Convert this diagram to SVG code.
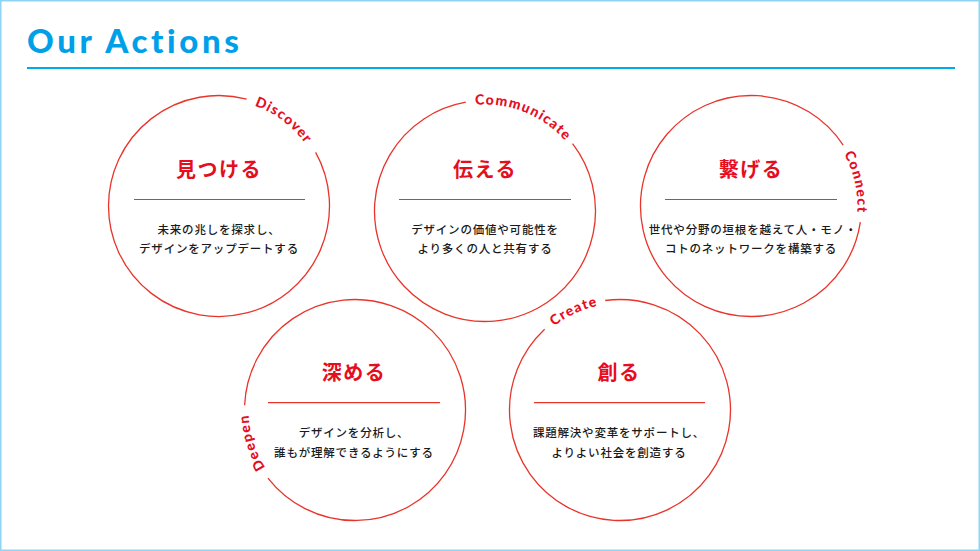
<svg xmlns="http://www.w3.org/2000/svg" width="980" height="551" viewBox="0 0 980 551">
<defs>
<style>
.ring{fill:none;stroke:#e8342a;stroke-width:1.3}
.rule{stroke:#e8342a;stroke-width:1.2}
.ttl{font-family:"Noto Sans CJK JP","Noto Sans",sans-serif;font-weight:700;font-size:20px;fill:#e60d1e;text-anchor:middle;letter-spacing:1.5px}
.body{font-family:"Noto Sans CJK JP","Noto Sans",sans-serif;font-weight:500;font-size:11.5px;fill:#1a1a1a;text-anchor:middle;letter-spacing:0.8px}
.lbl{font-family:Lato,"Liberation Sans",sans-serif;font-weight:900;font-size:14px;fill:#e60d1e;letter-spacing:1.3px}
</style>
<path id="p1" d="M177.39,107.97 A106.5,106.5 0 0 1 324.70,218.98"/>
<path id="p2" d="M419.43,127.08 A106.5,106.5 0 0 1 590.46,196.18"/>
<path id="p3" d="M782.67,104.31 A106.5,106.5 0 0 1 823.23,284.27"/>
<path id="p4" d="M331.95,513.98 A106.5,106.5 0 0 1 276.48,338.05"/>
<path id="p5" d="M513.90,400.72 A106.5,106.5 0 0 1 681.09,322.76"/>
</defs>
<rect x="0.75" y="0.75" width="978.5" height="549.5" fill="#fff" stroke="#8fd4f5" stroke-width="1.5"/>
<g id="header">
<text x="27" y="53" font-family="Lato,'Liberation Sans',sans-serif" font-weight="900" font-size="33" fill="#00a0e9" letter-spacing="3.6">Our Actions</text>
<line x1="27" y1="68" x2="955" y2="68" stroke="#00a9e8" stroke-width="2"/>
</g>
<g id="discover">
<path class="ring" d="M315.64,152.43 A110.5,110.5 0 1 1 246.67,99.03"/>
<text class="lbl"><textPath href="#p1" startOffset="50%" text-anchor="middle">Discover</textPath></text>
<text class="ttl" x="219" y="177">見つける</text>
<line class="rule" x1="134" y1="199.5" x2="305" y2="199.5"/>
<text class="body" x="219" y="234">未来の兆しを探求し、</text>
<text class="body" x="219" y="253">デザインをアップデートする</text>
</g>
<g id="communicate">
<path class="ring" d="M572.55,143.58 A110.5,110.5 0 1 1 465.81,102.18"/>
<text class="lbl"><textPath href="#p2" startOffset="50%" text-anchor="middle">Communicate</textPath></text>
<text class="ttl" x="485" y="177">伝える</text>
<line class="rule" x1="399" y1="199.5" x2="571" y2="199.5"/>
<text class="body" x="485" y="234">デザインの価値や可能性を</text>
<text class="body" x="485" y="253">より多くの人と共有する</text>
</g>
<g id="connect">
<path class="ring" d="M860.32,222.14 A110.5,110.5 0 1 1 843.15,145.02"/>
<text class="lbl"><textPath href="#p3" startOffset="50%" text-anchor="middle">Connect</textPath></text>
<text class="ttl" x="751" y="177">繋げる</text>
<line class="rule" x1="665" y1="199.5" x2="837" y2="199.5"/>
<text class="body" x="753" y="234">世代や分野の垣根を越えて人・モノ・</text>
<text class="body" x="751" y="253">コトのネットワークを構築する</text>
</g>
<g id="deepen">
<path class="ring" d="M244.61,405.18 A110.5,110.5 0 1 1 267.93,478.03"/>
<text class="lbl"><textPath href="#p4" startOffset="50%" text-anchor="middle">Deepen</textPath></text>
<text class="ttl" x="354" y="380">深める</text>
<line class="rule" x1="268" y1="402.7" x2="440" y2="402.7"/>
<text class="body" x="354" y="437">デザインを分析し、</text>
<text class="body" x="354" y="457">誰もが理解できるようにする</text>
</g>
<g id="create">
<path class="ring" d="M605.19,300.50 A110.5,110.5 0 1 1 544.64,329.18"/>
<text class="lbl"><textPath href="#p5" startOffset="50%" text-anchor="middle">Create</textPath></text>
<text class="ttl" x="619" y="380">創る</text>
<line class="rule" x1="534" y1="402.7" x2="705" y2="402.7"/>
<text class="body" x="619" y="437">課題解決や変革をサポートし、</text>
<text class="body" x="619" y="457">よりよい社会を創造する</text>
</g>
<g id="connectors"></g>
</svg>
